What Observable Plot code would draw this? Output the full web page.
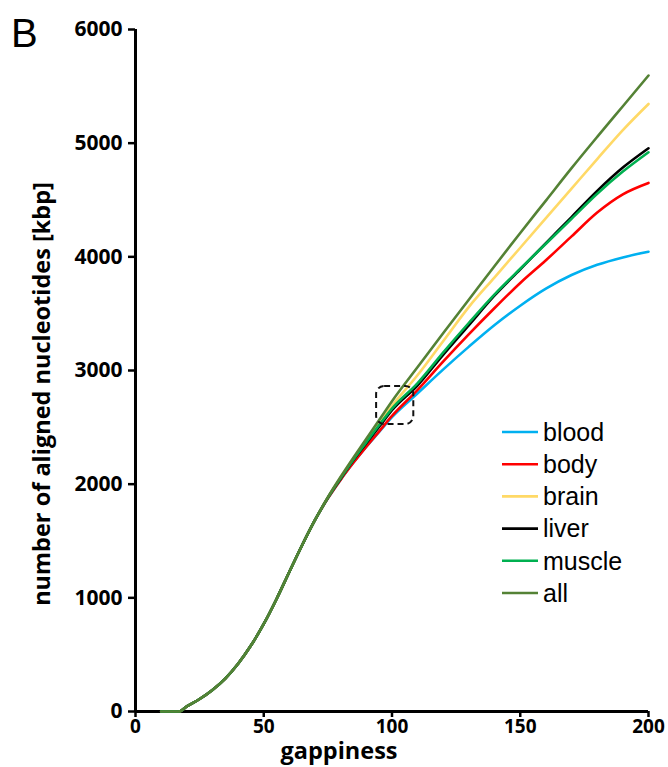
<!DOCTYPE html>
<html><head><meta charset="utf-8">
<script src="https://cdn.jsdelivr.net/npm/d3@7"></script>
<script src="https://cdn.jsdelivr.net/npm/@observablehq/plot@0.6"></script>
<style>
body{margin:0;background:#fff}
#chart{position:relative;width:668px;height:767px}
</style>
</head><body><div id="chart"></div>
<script>
const gappiness = [10,15,17,20,25,30,35,40,45,50,55,60,65,70,75,80,85,90,95,100,110,120,130,140,150,160,170,180,190,200];
const blood  = [0,0,0,45,110,190,290,420,580,770,990,1230,1465,1685,1875,2040,2190,2330,2460,2590,2800,3010,3210,3400,3570,3720,3840,3930,3995,4045];
const body   = [0,0,0,45,110,190,290,420,580,770,990,1230,1465,1685,1875,2040,2190,2330,2465,2600,2830,3080,3320,3550,3770,3970,4180,4390,4550,4650];
const brain  = [0,0,0,45,110,190,290,420,580,770,990,1230,1465,1685,1882,2058,2225,2385,2540,2690,2960,3260,3560,3820,4080,4340,4600,4860,5115,5345];
const liver  = [0,0,0,45,110,190,290,420,580,770,990,1230,1465,1685,1880,2050,2212,2360,2505,2650,2870,3140,3400,3660,3890,4120,4350,4580,4785,4955];
const muscle = [0,0,0,45,110,190,290,420,580,770,990,1230,1465,1685,1881,2054,2218,2370,2520,2665,2890,3160,3420,3670,3895,4115,4335,4555,4750,4920];
const all    = [0,0,0,45,110,190,290,420,580,770,990,1230,1465,1685,1885,2065,2235,2400,2565,2730,3030,3330,3625,3920,4210,4495,4780,5055,5325,5595];

const seriesNames  = ["blood","body","brain","liver","muscle","all"];
const seriesColors = ["#00B0F0","#FF0000","#FFD966","#000000","#00B050","#548235"];
const xTicks = [0,50,100,150,200];
const yTicks = [0,1000,2000,3000,4000,5000,6000];
const highlight = [{x1:94, x2:108.5, y1:2525, y2:2860}];
const panelLabel = "B";
const xLabel = "gappiness";
const yLabel = "number of aligned nucleotides [kbp]";

const values = {blood, body, brain, liver, muscle, all};
const rows = seriesNames.flatMap(name =>
  gappiness.map((g, i) => ({series: name, gappiness: g, value: values[name][i]})));

const font = "'Open Sans', 'DejaVu Sans', sans-serif";
const arial = "'Liberation Sans', Arial, sans-serif";

const plot = Plot.plot({
  width: 668, height: 767,
  marginLeft: 135, marginRight: 20, marginTop: 29, marginBottom: 56,
  x: {domain: [0, 200], label: null},
  y: {domain: [0, 6000], label: null},
  color: {domain: seriesNames, range: seriesColors},
  style: {fontFamily: font, background: "white", overflow: "visible"},
  marks: [
    Plot.axisX(xTicks, {tickSize: 6, tickPadding: 2, tickFormat: "d", fontSize: 19, fontWeight: "bold", strokeWidth: 2.5, label: null}),
    Plot.axisY(yTicks, {tickSize: 7, tickPadding: 6, tickFormat: "d", fontSize: 21, fontWeight: "bold", strokeWidth: 2.5, label: null}),
    Plot.ruleX([0], {strokeWidth: 3}),
    Plot.ruleY([0], {strokeWidth: 3}),
    Plot.line(rows, {x: "gappiness", y: "value", z: "series", stroke: "series", strokeWidth: 2.6, curve: "monotone-x"})
  ]
});

document.getElementById("chart").appendChild(plot);

const svg = d3.select(plot);
const sx = plot.scale("x"), sy = plot.scale("y");

// axis titles
svg.append("text").attr("x", 339).attr("y", 759)
  .attr("text-anchor", "middle").attr("font-family", font)
  .attr("font-size", 23.5).attr("font-weight", "bold").attr("fill", "#000").text(xLabel);
svg.append("text").attr("transform", "translate(50,394) rotate(-90)")
  .attr("text-anchor", "middle").attr("font-family", font)
  .attr("font-size", 23.5).attr("font-weight", "bold").attr("fill", "#000").text(yLabel);

// dashed highlight box
svg.append("g").selectAll("rect").data(highlight).join("rect")
  .attr("x", d => sx.apply(d.x1))
  .attr("y", d => sy.apply(d.y2))
  .attr("width", d => sx.apply(d.x2) - sx.apply(d.x1))
  .attr("height", d => sy.apply(d.y1) - sy.apply(d.y2))
  .attr("rx", 8)
  .attr("fill", "none").attr("stroke", "#111").attr("stroke-width", 2)
  .attr("stroke-dasharray", "6,4");

// legend
const lg = svg.append("g").attr("transform", "translate(502,432)");
const items = lg.selectAll("g").data(seriesNames).join("g")
  .attr("transform", (d, i) => `translate(0,${i * 32.2})`);
items.append("line").attr("x1", 0).attr("x2", 36).attr("y1", 0).attr("y2", 0)
  .attr("stroke", (d, i) => seriesColors[i]).attr("stroke-width", 2.6);
items.append("text").attr("x", 41).attr("y", 0).attr("dy", "0.35em")
  .attr("text-anchor", "start")
  .attr("font-family", arial).attr("font-size", 25)
  .attr("fill", "#000").text(d => d);

// panel label
svg.append("text").attr("x", 11).attr("y", 47).attr("text-anchor", "start")
  .attr("font-family", arial).attr("font-size", 40)
  .attr("fill", "#000").text(panelLabel);
</script>
</body></html>
